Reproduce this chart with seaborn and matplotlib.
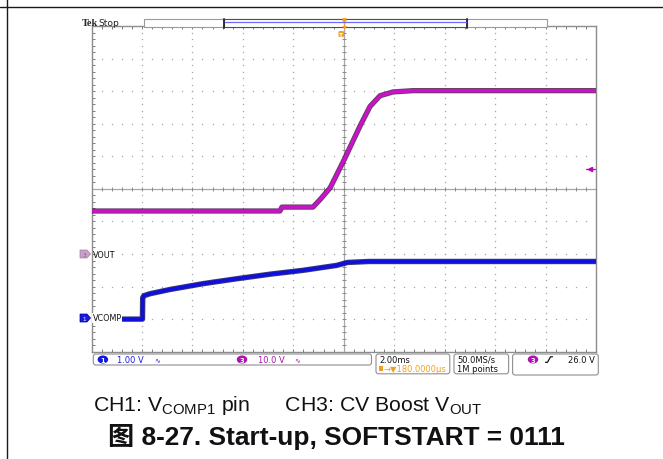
import numpy as np
import pandas as pd
import matplotlib
matplotlib.use("Agg")
import matplotlib.pyplot as plt
import matplotlib.patheffects as pe
from matplotlib.patches import FancyBboxPatch, Rectangle, Polygon, Ellipse
import seaborn as sns

# ---------------- data ----------------
# CH1: VCOMP1 pin, 1.00 V/div, ground marker 4 div below centre
ch1_time_ms = [-10.0, -7.98, -7.97, -7.92, -7.68, -6.89, -5.57, -4.24, -2.92, -1.60, -0.28, 0.15, 1.0, 10.0]
ch1_volts = [0.0, 0.0, 0.66, 0.72, 0.78, 0.91, 1.09, 1.24, 1.38, 1.50, 1.65, 1.74, 1.77, 1.77]
# CH3: CV Boost VOUT, 10.0 V/div, ground marker 2 div below centre
ch3_time_ms = [-10.0, -2.53, -2.45, -1.22, -0.94, -0.54, 0.02, 0.64, 1.04, 1.44, 1.95, 2.74, 10.0]
ch3_volts = [13.2, 13.2, 14.4, 14.4, 16.7, 20.3, 29.0, 39.2, 45.3, 48.6, 49.75, 50.15, 50.15]

ch1_volts_per_div = 1.0
ch3_volts_per_div = 10.0
ch1_offset_div = -4
ch3_offset_div = -2
time_per_div_ms = 2.0
trigger_level_v = 26.0

ch1_scale_label = "1.00 V"
ch3_scale_label = "10.0 V"
timebase_label = "2.00ms"
delay_label = "180.0000µs"
sample_rate_label = "50.0MS/s"
record_label = "1M points"
trigger_label = "26.0 V"
caption_line1 = ["CH1: V", "COMP1", " pin      CH3: CV Boost V", "OUT"]
caption_line2 = "图 8-27. Start-up, SOFTSTART = 0111"

# ---------------- style ----------------
sns.set_theme(style="white")
plt.rcParams["font.family"] = ["Liberation Sans", "Noto Sans CJK SC", "DejaVu Sans"]
plt.rcParams["mathtext.fontset"] = "custom"
plt.rcParams["mathtext.rm"] = "Liberation Sans"
plt.rcParams["mathtext.it"] = "Liberation Sans"

W, H = 663, 460
fig = plt.figure(figsize=(W / 100, H / 100), dpi=100)
fig.patch.set_facecolor("white")

L, R, T, B = 91.5, 596.0, 27.0, 352.7
rect = [L / W, 1 - B / H, (R - L) / W, (B - T) / H]

# grid axes in divisions / ms
ax = fig.add_axes(rect)
ax.set_facecolor("white")
ax.set_xlim(-10, 10)
ax.set_ylim(-5, 5)
for s in ax.spines.values():
    s.set_color("#8c8c8c")
    s.set_linewidth(1.0)
ax.set_xticks(np.arange(-10, 10.01, 2))
ax.set_xticks(np.arange(-10, 10.01, 0.4), minor=True)
ax.set_yticks(np.arange(-5, 5.01, 1))
ax.set_yticks(np.arange(-5, 5.01, 0.2), minor=True)
ax.tick_params(which="both", direction="in", top=True, right=True, bottom=True, left=True,
               labelbottom=False, labelleft=False, length=2.2, width=0.7, color="#7a7a7a")
# dotted graticule
xs_major = np.arange(-8, 8.01, 2)
ys_major = np.arange(-4, 4.01, 1)
xs_minor = np.arange(-10, 10.01, 0.4)
ys_minor = np.arange(-5, 5.01, 0.2)
for xv in xs_major:
    if abs(xv) > 1e-9:
        ax.plot(np.full_like(ys_minor, xv), ys_minor, ls="none", marker="s", ms=0.9,
                color="#a6a6a6", mew=0, zorder=1)
for yv in ys_major:
    if abs(yv) > 1e-9:
        ax.plot(xs_minor, np.full_like(xs_minor, yv), ls="none", marker="s", ms=0.9,
                color="#a6a6a6", mew=0, zorder=1)
ax.axhline(0, color="#a8a8a8", lw=0.9, zorder=1)
ax.axvline(0, color="#a8a8a8", lw=0.9, zorder=1)
ax.plot(xs_minor, np.zeros_like(xs_minor), ls="none", marker="|", ms=3.2, mew=0.7,
        color="#8a8a8a", zorder=1)
ax.plot(np.zeros_like(ys_minor), ys_minor, ls="none", marker="_", ms=3.2, mew=0.7,
        color="#8a8a8a", zorder=1)

# channel axes: scale & offset through the library's own axis limits
ch1 = ax.twinx()
ch1.set_ylim((-5 - ch1_offset_div) * ch1_volts_per_div, (5 - ch1_offset_div) * ch1_volts_per_div)
ch3 = ax.twinx()
ch3.set_ylim((-5 - ch3_offset_div) * ch3_volts_per_div, (5 - ch3_offset_div) * ch3_volts_per_div)
for a in (ch1, ch3):
    a.set_xlim(-10, 10)
    a.axis("off")

df1 = pd.DataFrame({"time_ms": ch1_time_ms, "volts": ch1_volts})
df3 = pd.DataFrame({"time_ms": ch3_time_ms, "volts": ch3_volts})

sns.lineplot(data=df3, x="time_ms", y="volts", ax=ch3, estimator=None, sort=False,
             color="#cc10cc", lw=2.4, legend=False)
ch3.lines[-1].set_path_effects([pe.Stroke(linewidth=3.8, foreground="#401040", alpha=0.8), pe.Normal()])
sns.lineplot(data=df1, x="time_ms", y="volts", ax=ch1, estimator=None, sort=False,
             color="#1010dc", lw=2.6, legend=False)
ch1.lines[-1].set_path_effects([pe.Stroke(linewidth=3.9, foreground="#0a0a50", alpha=0.8), pe.Normal()])
for a in (ch1, ch3):
    a.set_xlabel("")
    a.set_ylabel("")

# trigger level marker (right edge) on CH3 scale
ch3.plot([9.75], [trigger_level_v], marker="<", ms=3.0, color="#c000c0", clip_on=False)
ch3.plot([9.62, 9.95], [trigger_level_v, trigger_level_v], color="#c000c0", lw=0.9, clip_on=False)

# ---------------- overlay (scope chrome & caption) ----------------
ov = fig.add_axes([0, 0, 1, 1])
ov.set_xlim(0, W)
ov.set_ylim(H, 0)
ov.axis("off")
ov.patch.set_alpha(0)

ov.plot([0, W], [8, 8], color="#1a1a1a", lw=1.0)
ov.plot([7, 7], [0, H], color="#1a1a1a", lw=1.0)

ov.text(82.0, 26.5, "Tek", fontsize=7.4, fontweight="bold", family="Liberation Serif", va="baseline")
ov.text(98, 26.5, "Stop", fontsize=6.6, family="DejaVu Sans", va="baseline", color="#222")

# record bar
ov.add_patch(Rectangle((143.6, 20), 547.4 - 143.6, 8, fc="white", ec="#9a9a9a", lw=0.8))
ov.add_patch(Rectangle((224, 20), 467 - 224, 8, fc="white", ec="#505050", lw=0.8))
ov.plot([224, 224], [19.5, 28.5], color="#303030", lw=1.4)
ov.plot([467, 467], [19.5, 28.5], color="#303030", lw=1.4)
ov.plot([225, 466], [23.3, 23.3], color="#6a6aff", lw=0.9)
# trigger position markers
ov.add_patch(Polygon([[342.5, 19], [346.5, 19], [346.5, 22], [345.3, 23], [345.3, 29], [343.8, 29], [343.8, 23], [342.5, 22]],
                     closed=True, fc="#f0a020", ec="none"))
ov.add_patch(FancyBboxPatch((338.5, 32), 5.5, 6, boxstyle="round,pad=0,rounding_size=1.2",
                            fc="#f0a020", ec="none"))
ov.text(341.2, 35.2, "T", fontsize=4.2, color="white", ha="center", va="center", fontweight="bold",
        family="DejaVu Sans")
ov.add_patch(Polygon([[342.5, 27], [347, 27], [344.75, 31]], closed=True, fc="#f0a020", ec="none"))

# channel ground markers
ov.add_patch(Polygon([[80, 251], [87, 251], [90.5, 255], [87, 259], [80, 259]], closed=True,
                     fc="#c8a0c8", ec="#a080a0", lw=0.5))
ov.text(84, 255.2, "3", fontsize=4, color="#806080", ha="center", va="center", family="DejaVu Sans")
ov.text(92.5, 255, "VOUT", fontsize=5.8, color="#111", va="center", family="DejaVu Sans")
ov.add_patch(Polygon([[80, 315], [87, 315], [90.5, 319], [87, 323], [80, 323]], closed=True,
                     fc="#1a1ae0", ec="#0000a0", lw=0.5))
ov.text(84, 319.2, "1", fontsize=4, color="white", ha="center", va="center", family="DejaVu Sans")
ov.text(92.5, 319, "VCOMP", fontsize=5.8, color="#111", va="center", family="DejaVu Sans",
        bbox=dict(fc="white", ec="none", pad=0.3))

# status bar
def rbox(x0, y0, x1, y1):
    ov.add_patch(FancyBboxPatch((x0, y0), x1 - x0, y1 - y0, boxstyle="round,pad=0,rounding_size=2.5",
                                fc="white", ec="#8f8f8f", lw=0.8))

def badge(xc, yc, num, col):
    ov.add_patch(Ellipse((xc, yc), 10.5, 8, fc=col, ec="none"))
    ov.text(xc, yc + 0.3, num, fontsize=4.8, color="white", ha="center", va="center",
            family="DejaVu Sans", fontweight="bold")

sfont = dict(fontsize=6.0, family="DejaVu Sans", va="center")
rbox(93.3, 355, 371.5, 366)
badge(102.9, 360.5, "1", "#1414e6")
ov.text(116.7, 360.5, ch1_scale_label, color="#2020e0", **sfont)
ov.text(154.5, 360.3, "∿", color="#2020e0", fontsize=5.0, family="DejaVu Sans", va="center")
badge(242.0, 360.5, "3", "#b010b0")
ov.text(257.7, 360.5, ch3_scale_label, color="#b010b0", **sfont)
ov.text(294.5, 360.3, "∿", color="#b010b0", fontsize=5.0, family="DejaVu Sans", va="center")

rbox(376, 355, 449.8, 374.8)
ov.text(379, 360.3, timebase_label, color="#111", **sfont)
ov.add_patch(Rectangle((379, 366.8), 4, 5.5, fc="#f0a020", ec="none"))
ov.text(383.5, 369.8, "→▼" + delay_label, color="#f0a020", **sfont)

rbox(454, 355, 508.6, 374.8)
ov.text(457, 360.3, sample_rate_label, color="#111", **sfont)
ov.text(457, 369.8, record_label, color="#111", **sfont)

rbox(512.6, 355, 598.3, 376)
badge(533.0, 360.5, "3", "#b010b0")
ov.plot([545.5, 547.5, 550.5, 552.5], [363.3, 363.3, 357.8, 357.8], color="#111", lw=0.9)
ov.text(594.8, 360.5, trigger_label, color="#111", ha="right", **sfont)

# caption
ov.text(93.3, 411.5, caption_line1[0] + r"$_{\mathrm{" + caption_line1[1] + r"}}$" + caption_line1[2]
        + r"$_{\mathrm{" + caption_line1[3] + r"}}$",
        fontsize=15.3, color="#111", va="baseline", ha="left")
ov.text(108.5, 445.5, caption_line2, fontsize=18.9, fontweight="bold", color="#111", va="baseline", ha="left",
        family=["Liberation Sans", "Noto Sans CJK SC"])

fig.savefig("out.png", dpi=100)
